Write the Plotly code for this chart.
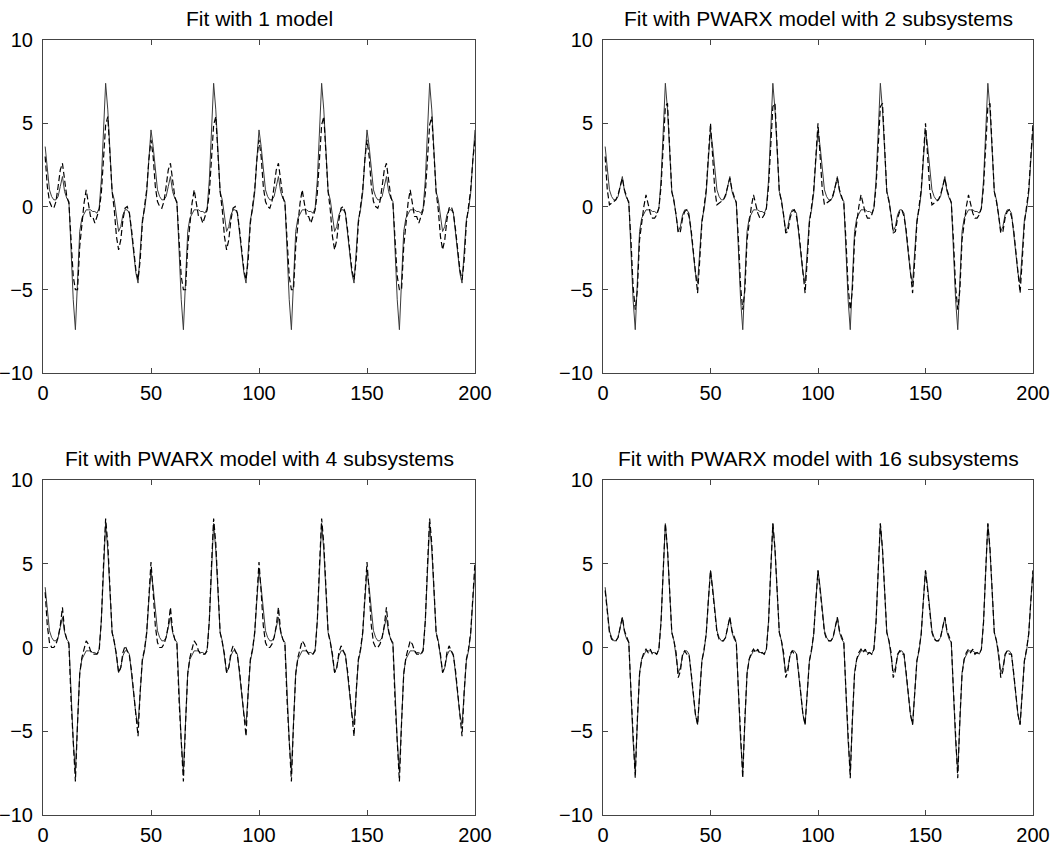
import plotly.graph_objects as go

# sample index (1..200)
x = list(range(1, 201))

# measured (true) output, identical in all four panels
y_true = [
    3.6, 2.2, 1.0, 0.6, 0.4, 0.4, 0.6, 1.2, 1.8, 0.9, 0.5, 0.3, -2.8, -5.6, -7.4, -4.0, -1.5, -0.7, -0.4, -0.2, -0.2, -0.2, -0.3, -0.3, -0.4, -0.1, 1.6, 4.6, 7.4, 5.8, 3.0, 0.9, 0.4, -0.6, -1.5, -1.2, -0.5, -0.2, -0.2, -0.4, -1.5, -2.8, -4.0, -4.6, -2.8, -0.8, -0.2, 0.8, 2.8, 4.6,
    3.6, 2.2, 1.0, 0.6, 0.4, 0.4, 0.6, 1.2, 1.8, 0.9, 0.5, 0.3, -2.8, -5.6, -7.4, -4.0, -1.5, -0.7, -0.4, -0.2, -0.2, -0.2, -0.3, -0.3, -0.4, -0.1, 1.6, 4.6, 7.4, 5.8, 3.0, 0.9, 0.4, -0.6, -1.5, -1.2, -0.5, -0.2, -0.2, -0.4, -1.5, -2.8, -4.0, -4.6, -2.8, -0.8, -0.2, 0.8, 2.8, 4.6,
    3.6, 2.2, 1.0, 0.6, 0.4, 0.4, 0.6, 1.2, 1.8, 0.9, 0.5, 0.3, -2.8, -5.6, -7.4, -4.0, -1.5, -0.7, -0.4, -0.2, -0.2, -0.2, -0.3, -0.3, -0.4, -0.1, 1.6, 4.6, 7.4, 5.8, 3.0, 0.9, 0.4, -0.6, -1.5, -1.2, -0.5, -0.2, -0.2, -0.4, -1.5, -2.8, -4.0, -4.6, -2.8, -0.8, -0.2, 0.8, 2.8, 4.6,
    3.6, 2.2, 1.0, 0.6, 0.4, 0.4, 0.6, 1.2, 1.8, 0.9, 0.5, 0.3, -2.8, -5.6, -7.4, -4.0, -1.5, -0.7, -0.4, -0.2, -0.2, -0.2, -0.3, -0.3, -0.4, -0.1, 1.6, 4.6, 7.4, 5.8, 3.0, 0.9, 0.4, -0.6, -1.5, -1.2, -0.5, -0.2, -0.2, -0.4, -1.5, -2.8, -4.0, -4.6, -2.8, -0.8, -0.2, 0.8, 2.8, 4.6,
]

# model fit: 1 model
y_fit_1 = [
    3.0, 1.2, 0.3, 0.0, -0.1, 0.3, 1.2, 2.2, 2.6, 1.4, 0.6, 0.2, -2.0, -4.2, -5.0, -5.0, -2.4, -1.0, 0.2, 1.0, 0.3, -0.6, -0.6, -1.0, -0.6, -0.2, 0.8, 3.2, 4.9, 5.4, 3.2, 0.9, -0.2, -1.8, -2.6, -2.0, -0.8, -0.1, 0.0, -0.4, -1.4, -2.6, -3.8, -4.4, -3.2, -1.0, 0.0, 1.0, 2.8, 4.0,
    3.0, 1.2, 0.3, 0.0, -0.1, 0.3, 1.2, 2.2, 2.6, 1.4, 0.6, 0.2, -2.0, -4.2, -5.0, -5.0, -2.4, -1.0, 0.2, 1.0, 0.3, -0.6, -0.6, -1.0, -0.6, -0.2, 0.8, 3.2, 4.9, 5.4, 3.2, 0.9, -0.2, -1.8, -2.6, -2.0, -0.8, -0.1, 0.0, -0.4, -1.4, -2.6, -3.8, -4.4, -3.2, -1.0, 0.0, 1.0, 2.8, 4.0,
    3.0, 1.2, 0.3, 0.0, -0.1, 0.3, 1.2, 2.2, 2.6, 1.4, 0.6, 0.2, -2.0, -4.2, -5.0, -5.0, -2.4, -1.0, 0.2, 1.0, 0.3, -0.6, -0.6, -1.0, -0.6, -0.2, 0.8, 3.2, 4.9, 5.4, 3.2, 0.9, -0.2, -1.8, -2.6, -2.0, -0.8, -0.1, 0.0, -0.4, -1.4, -2.6, -3.8, -4.4, -3.2, -1.0, 0.0, 1.0, 2.8, 4.0,
    3.0, 1.2, 0.3, 0.0, -0.1, 0.3, 1.2, 2.2, 2.6, 1.4, 0.6, 0.2, -2.0, -4.2, -5.0, -5.0, -2.4, -1.0, 0.2, 1.0, 0.3, -0.6, -0.6, -1.0, -0.6, -0.2, 0.8, 3.2, 4.9, 5.4, 3.2, 0.9, -0.2, -1.8, -2.6, -2.0, -0.8, -0.1, 0.0, -0.4, -1.4, -2.6, -3.8, -4.4, -3.2, -1.0, 0.0, 1.0, 2.8, 4.0,
]

# model fit: PWARX, 2 subsystems
y_fit_2 = [
    3.0, 1.0, 0.1, 0.2, 0.3, 0.4, 0.7, 1.3, 1.7, 1.0, 0.6, 0.2, -2.0, -4.8, -6.2, -5.0, -2.0, -0.9, 0.0, 0.7, 0.2, -0.4, -0.7, -0.7, -0.5, -0.1, 1.2, 4.0, 6.0, 6.2, 3.0, 0.9, 0.3, -0.5, -1.6, -1.5, -0.7, -0.3, -0.2, -0.6, -1.4, -2.6, -4.0, -5.2, -3.2, -1.0, 0.0, 1.0, 3.0, 5.0,
    3.0, 1.0, 0.1, 0.2, 0.3, 0.4, 0.7, 1.3, 1.7, 1.0, 0.6, 0.2, -2.0, -4.8, -6.2, -5.0, -2.0, -0.9, 0.0, 0.7, 0.2, -0.4, -0.7, -0.7, -0.5, -0.1, 1.2, 4.0, 6.0, 6.2, 3.0, 0.9, 0.3, -0.5, -1.6, -1.5, -0.7, -0.3, -0.2, -0.6, -1.4, -2.6, -4.0, -5.2, -3.2, -1.0, 0.0, 1.0, 3.0, 5.0,
    3.0, 1.0, 0.1, 0.2, 0.3, 0.4, 0.7, 1.3, 1.7, 1.0, 0.6, 0.2, -2.0, -4.8, -6.2, -5.0, -2.0, -0.9, 0.0, 0.7, 0.2, -0.4, -0.7, -0.7, -0.5, -0.1, 1.2, 4.0, 6.0, 6.2, 3.0, 0.9, 0.3, -0.5, -1.6, -1.5, -0.7, -0.3, -0.2, -0.6, -1.4, -2.6, -4.0, -5.2, -3.2, -1.0, 0.0, 1.0, 3.0, 5.0,
    3.0, 1.0, 0.1, 0.2, 0.3, 0.4, 0.7, 1.3, 1.7, 1.0, 0.6, 0.2, -2.0, -4.8, -6.2, -5.0, -2.0, -0.9, 0.0, 0.7, 0.2, -0.4, -0.7, -0.7, -0.5, -0.1, 1.2, 4.0, 6.0, 6.2, 3.0, 0.9, 0.3, -0.5, -1.6, -1.5, -0.7, -0.3, -0.2, -0.6, -1.4, -2.6, -4.0, -5.2, -3.2, -1.0, 0.0, 1.0, 3.0, 5.0,
]

# model fit: PWARX, 4 subsystems
y_fit_4 = [
    3.3, 1.3, 0.3, 0.0, 0.0, 0.2, 0.6, 1.3, 2.4, 1.0, 0.5, 0.2, -3.2, -6.0, -8.0, -4.5, -1.6, -0.6, -0.1, 0.4, 0.2, -0.2, -0.4, -0.4, -0.4, -0.2, 1.6, 4.9, 7.7, 6.2, 3.0, 0.9, 0.3, -0.4, -1.5, -1.2, -0.3, 0.1, -0.2, -0.5, -1.4, -2.8, -4.2, -5.3, -2.6, -0.7, -0.1, 0.9, 3.0, 5.1,
    3.3, 1.3, 0.3, 0.0, 0.0, 0.2, 0.6, 1.3, 2.4, 1.0, 0.5, 0.2, -3.2, -6.0, -8.0, -4.5, -1.6, -0.6, -0.1, 0.4, 0.2, -0.2, -0.4, -0.4, -0.4, -0.2, 1.6, 4.9, 7.7, 6.2, 3.0, 0.9, 0.3, -0.4, -1.5, -1.2, -0.3, 0.1, -0.2, -0.5, -1.4, -2.8, -4.2, -5.3, -2.6, -0.7, -0.1, 0.9, 3.0, 5.1,
    3.3, 1.3, 0.3, 0.0, 0.0, 0.2, 0.6, 1.3, 2.4, 1.0, 0.5, 0.2, -3.2, -6.0, -8.0, -4.5, -1.6, -0.6, -0.1, 0.4, 0.2, -0.2, -0.4, -0.4, -0.4, -0.2, 1.6, 4.9, 7.7, 6.2, 3.0, 0.9, 0.3, -0.4, -1.5, -1.2, -0.3, 0.1, -0.2, -0.5, -1.4, -2.8, -4.2, -5.3, -2.6, -0.7, -0.1, 0.9, 3.0, 5.1,
    3.3, 1.3, 0.3, 0.0, 0.0, 0.2, 0.6, 1.3, 2.4, 1.0, 0.5, 0.2, -3.2, -6.0, -8.0, -4.5, -1.6, -0.6, -0.1, 0.4, 0.2, -0.2, -0.4, -0.4, -0.4, -0.2, 1.6, 4.9, 7.7, 6.2, 3.0, 0.9, 0.3, -0.4, -1.5, -1.2, -0.3, 0.1, -0.2, -0.5, -1.4, -2.8, -4.2, -5.3, -2.6, -0.7, -0.1, 0.9, 3.0, 5.1,
]

# model fit: PWARX, 16 subsystems
y_fit_16 = [
    3.4, 2.0, 0.9, 0.5, 0.4, 0.4, 0.6, 1.2, 1.8, 1.0, 0.6, 0.3, -2.6, -5.6, -7.8, -4.2, -1.6, -0.7, -0.3, -0.1, -0.3, -0.1, -0.4, -0.3, -0.4, -0.1, 1.5, 4.6, 7.4, 5.9, 3.0, 0.9, 0.4, -0.3, -1.8, -1.4, -0.4, -0.2, -0.4, -0.4, -1.5, -2.7, -4.0, -4.6, -2.8, -0.8, -0.1, 0.8, 2.8, 4.6,
    3.4, 2.0, 0.9, 0.5, 0.4, 0.4, 0.6, 1.2, 1.8, 1.0, 0.6, 0.3, -2.6, -5.6, -7.8, -4.2, -1.6, -0.7, -0.3, -0.1, -0.3, -0.1, -0.4, -0.3, -0.4, -0.1, 1.5, 4.6, 7.4, 5.9, 3.0, 0.9, 0.4, -0.3, -1.8, -1.4, -0.4, -0.2, -0.4, -0.4, -1.5, -2.7, -4.0, -4.6, -2.8, -0.8, -0.1, 0.8, 2.8, 4.6,
    3.4, 2.0, 0.9, 0.5, 0.4, 0.4, 0.6, 1.2, 1.8, 1.0, 0.6, 0.3, -2.6, -5.6, -7.8, -4.2, -1.6, -0.7, -0.3, -0.1, -0.3, -0.1, -0.4, -0.3, -0.4, -0.1, 1.5, 4.6, 7.4, 5.9, 3.0, 0.9, 0.4, -0.3, -1.8, -1.4, -0.4, -0.2, -0.4, -0.4, -1.5, -2.7, -4.0, -4.6, -2.8, -0.8, -0.1, 0.8, 2.8, 4.6,
    3.4, 2.0, 0.9, 0.5, 0.4, 0.4, 0.6, 1.2, 1.8, 1.0, 0.6, 0.3, -2.6, -5.6, -7.8, -4.2, -1.6, -0.7, -0.3, -0.1, -0.3, -0.1, -0.4, -0.3, -0.4, -0.1, 1.5, 4.6, 7.4, 5.9, 3.0, 0.9, 0.4, -0.3, -1.8, -1.4, -0.4, -0.2, -0.4, -0.4, -1.5, -2.7, -4.0, -4.6, -2.8, -0.8, -0.1, 0.8, 2.8, 4.6,
]

titles = [
    "Fit with 1 model",
    "Fit with PWARX model with 2 subsystems",
    "Fit with PWARX model with 4 subsystems",
    "Fit with PWARX model with 16 subsystems",
]
fits = [y_fit_1, y_fit_2, y_fit_4, y_fit_16]
x_ticks = [0, 50, 100, 150, 200]
y_ticks = [-10, -5, 0, 5, 10]

W, H = 1056, 846
# panel boxes in pixels: (left, right, top, bottom)
boxes = [(43, 475, 40, 373), (603, 1033, 40, 373),
         (43, 475, 480, 815), (603, 1033, 480, 815)]
title_y = [18, 18, 458, 458]

FONT = "Liberation Sans, Arial, sans-serif"
fig = go.Figure()
layout = dict(
    width=W, height=H, autosize=False,
    margin=dict(l=0, r=0, t=0, b=0, pad=0, autoexpand=False),
    paper_bgcolor="white", plot_bgcolor="white", showlegend=False,
    font=dict(family=FONT, size=20, color="black"),
)
annotations = []
for i, (fit, title, box) in enumerate(zip(fits, titles, boxes)):
    k = "" if i == 0 else str(i + 1)
    xa, ya = "x" + k, "y" + k
    fig.add_trace(go.Scatter(x=x, y=y_true, mode="lines", xaxis=xa, yaxis=ya,
                             line=dict(color="#3a3a3a", width=1)))
    fig.add_trace(go.Scatter(x=x, y=fit, mode="lines", xaxis=xa, yaxis=ya,
                             line=dict(color="black", width=1.2, dash="6px,3px")))
    l, r, t, b = box
    axcommon = dict(showgrid=False, zeroline=False, showline=True, mirror="ticks",
                    linecolor="#444", linewidth=1, ticks="inside", ticklen=5,
                    automargin=False,
                    tickcolor="#444", tickfont=dict(family=FONT, size=20, color="black"))
    layout["xaxis" + k] = dict(domain=[l / W, r / W], range=[0, 200], tickvals=x_ticks,
                               anchor=ya, ticklabelstandoff=2, **axcommon)
    layout["yaxis" + k] = dict(domain=[1 - b / H, 1 - t / H], range=[-10, 10], tickvals=y_ticks,
                               anchor=xa, ticklabelstandoff=5, **axcommon)
    annotations.append(dict(text=title, x=(l + r) / 2 / W, y=1 - title_y[i] / H,
                            xref="paper", yref="paper", showarrow=False,
                            xanchor="center", yanchor="middle",
                            font=dict(family=FONT, size=21, color="black")))
layout["annotations"] = annotations
fig.update_layout(**layout)
fig.write_html("out.html",
               post_script="document.body.style.margin='0px';document.body.style.overflow='hidden';")
